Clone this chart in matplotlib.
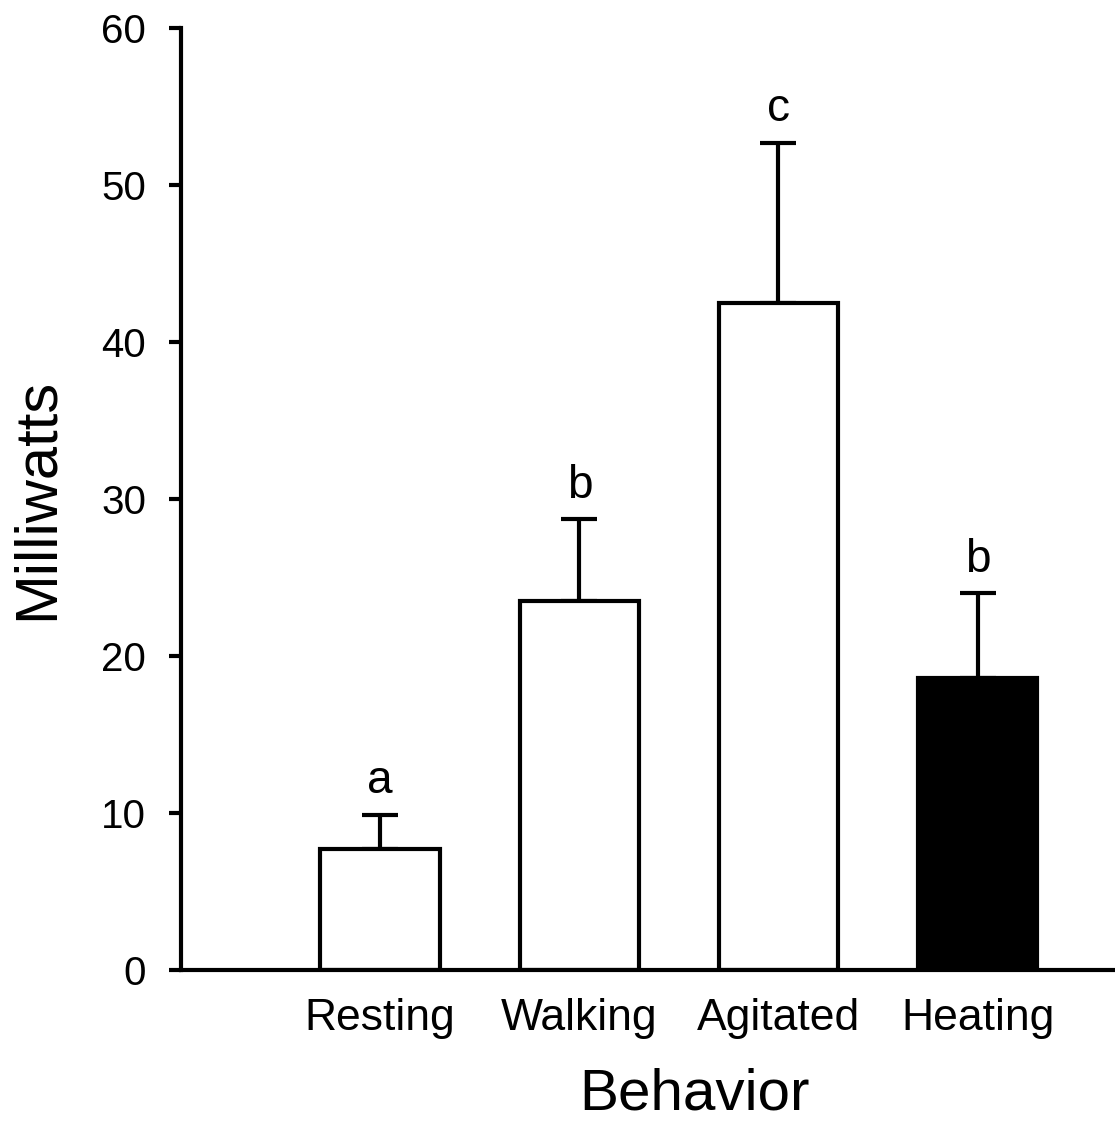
import numpy as np
import matplotlib
matplotlib.use("Agg")
import matplotlib.pyplot as plt

plt.rcParams['font.family'] = ['Liberation Sans', 'DejaVu Sans']

# Data
behaviors = ["Resting", "Walking", "Agitated", "Heating"]
milliwatts = [7.7, 23.5, 42.5, 18.6]
errors = [2.2, 5.2, 10.2, 5.4]
letters = ["a", "b", "c", "b"]
bar_colors = ["white", "white", "white", "black"]

fig = plt.figure(figsize=(11.15, 11.24), dpi=100)
ax = fig.add_axes([181 / 1115, 154 / 1124, 1 - 181 / 1115, 942 / 1124])

x = np.arange(len(behaviors))
ax.bar(x, milliwatts, width=0.6, color=bar_colors, edgecolor="black", linewidth=3, zorder=2)

# upper error bars only
ax.errorbar(x, milliwatts, yerr=[np.zeros(len(errors)), errors], fmt="none",
            ecolor="black", elinewidth=3, capsize=13, capthick=3, zorder=1)

for xi, m, e, lab in zip(x, milliwatts, errors, letters):
    ax.annotate(lab, (xi, m + e), xytext=(0, 8), textcoords="offset points",
                ha="center", va="bottom", fontsize=33)

ax.set_xlim(-1, 3.69)
ax.set_ylim(0, 60)
ax.set_yticks([0, 10, 20, 30, 40, 50, 60])
ax.set_xticks(x)
ax.set_xticklabels(behaviors)

ax.spines["top"].set_visible(False)
ax.spines["right"].set_visible(False)
ax.spines["left"].set_linewidth(3)
ax.spines["bottom"].set_linewidth(3)
ax.tick_params(axis="y", direction="out", length=9, width=3, labelsize=29, pad=16)
ax.tick_params(axis="x", length=0, labelsize=32, pad=20)

ax.set_ylabel("Milliwatts", fontsize=43)
ax.yaxis.set_label_coords(-0.125, 0.5)
ax.set_xlabel("Behavior", fontsize=42)
ax.xaxis.set_label_coords(0.55, -0.104)

fig.savefig("out.png", dpi=100)
